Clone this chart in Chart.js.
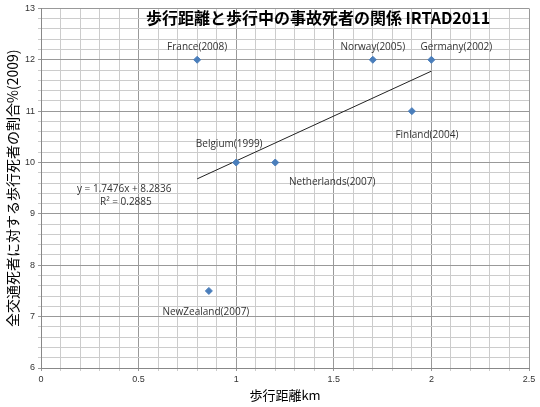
<!DOCTYPE html>
<html><head><meta charset="utf-8">
<script src="https://cdn.jsdelivr.net/npm/chart.js@4/dist/chart.umd.min.js"></script>
<style>html,body{margin:0;background:#fff}#w{width:540px;height:407px}</style>
</head><body><div id="w"><canvas id="c"></canvas></div>
<script>
const countries=["France(2008)","Norway(2005)","Germany(2002)","Finland(2004)","Belgium(1999)","Netherlands(2007)","NewZealand(2007)"];
const walkKm=[0.8,1.7,2.0,1.9,1.0,1.2,0.86];
const pedShare=[12,12,12,11,10,10,7.5];
const labelOffsets=[[0,-13],[0,-13],[25,-13],[15,24],[-7,-18],[57,20],[-3,21]];
const slope=1.7476, intercept=8.2836;
const trendX=[0.8,2.0];
const F='"Noto Sans CJK JP","Noto Sans",sans-serif';
const labelsPlugin={id:'lbl',afterDatasetsDraw(ch){
  const ctx=ch.ctx,xs=ch.scales.x,ys=ch.scales.y;
  ctx.save();ctx.font='10px "Open Sans",sans-serif';ctx.fillStyle='#333';ctx.textAlign='center';ctx.textBaseline='middle';
  countries.forEach((c,i)=>{ctx.fillText(c,xs.getPixelForValue(walkKm[i])+labelOffsets[i][0],ys.getPixelForValue(pedShare[i])+labelOffsets[i][1]);});
  ctx.textAlign='left';
  ctx.fillText('y = 1.7476x + 8.2836',77,189);
  ctx.fillText('R² = 0.2885',100,202);
  ctx.font='bold 16px '+F;ctx.fillStyle='#000';ctx.textAlign='center';
  ctx.fillText('歩行距離と歩行中の事故死者の関係 IRTAD2011',318,18);
  ctx.restore();}};
new Chart(document.getElementById('c'),{
 type:'scatter',
 data:{datasets:[
  {data:walkKm.map((x,i)=>({x,y:pedShare[i]})),backgroundColor:'#4a7ebb',borderColor:'#4a7ebb',pointStyle:'rectRot',pointRadius:3.5},
  {type:'line',data:trendX.map(x=>({x,y:slope*x+intercept})),borderColor:'#222',borderWidth:1,pointRadius:0,fill:false}
 ]},
 options:{responsive:true,maintainAspectRatio:false,animation:false,
  layout:{padding:{top:5,right:11,left:0,bottom:0}},
  plugins:{legend:{display:false},tooltip:{enabled:false}},
  scales:{
   x:{type:'linear',min:0,max:2.5,
    ticks:{stepSize:0.1,autoSkip:false,maxRotation:0,font:{size:9},color:'#333',callback:v=>{const r=Math.round(v*10);return r%5===0?String(r/10):'';}},
    grid:{color:c=>Math.round(c.tick.value*10)%5===0?'#999':'#ccc',tickLength:3},
    border:{color:'#888'},
    title:{display:true,text:'歩行距離km',font:{size:13,family:F},color:'#000',padding:{top:2}},
    afterFit(s){s.height=39;}},
   y:{min:6,max:13,
    ticks:{stepSize:0.2,autoSkip:false,font:{size:9},color:'#333',callback:v=>{const r=Math.round(v*10);return r%10===0?String(r/10):'';}},
    grid:{color:c=>Math.round(c.tick.value*10)%10===0?'#999':'#ccc',tickLength:3},
    border:{color:'#888'},
    title:{display:true,text:'全交通死者に対する歩行死者の割合%(2009)',font:{size:14,family:F},color:'#000',padding:{bottom:2}},
    afterFit(s){s.width=41;}}
  }},
 plugins:[labelsPlugin]});
</script></body></html>
